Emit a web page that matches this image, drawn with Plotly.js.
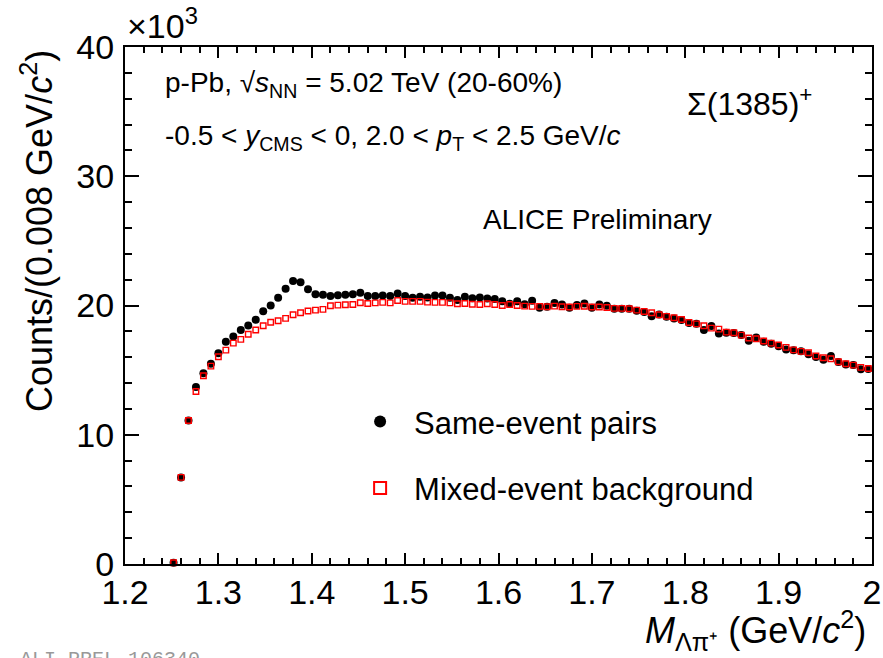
<!DOCTYPE html>
<html>
<head>
<meta charset="utf-8">
<script src="https://cdn.plot.ly/plotly-3.0.1.min.js"></script>
<style>html,body{margin:0;padding:0;background:#fff;}#chart{width:883px;height:658px;}</style>
</head>
<body>
<div id="chart"></div>
<script>
// Invariant mass bin centres (GeV/c^2), bin width 0.008
const massBins = [1.252,1.260,1.268,1.276,1.284,1.292,1.300,1.308,1.316,1.324,
1.332,1.340,1.348,1.356,1.364,1.372,1.380,1.388,1.396,1.404,
1.412,1.420,1.428,1.436,1.444,1.452,1.460,1.468,1.476,1.484,
1.492,1.500,1.508,1.516,1.524,1.532,1.540,1.548,1.556,1.564,
1.572,1.580,1.588,1.596,1.604,1.612,1.620,1.628,1.636,1.644,
1.652,1.660,1.668,1.676,1.684,1.692,1.700,1.708,1.716,1.724,
1.732,1.740,1.748,1.756,1.764,1.772,1.780,1.788,1.796,1.804,
1.812,1.820,1.828,1.836,1.844,1.852,1.860,1.868,1.876,1.884,
1.892,1.900,1.908,1.916,1.924,1.932,1.940,1.948,1.956,1.964,
1.972,1.980,1.988,1.996];

// Same-event pairs (counts, x10^3)
const sameEvent = [0.1,6.7,11.1,13.7,14.75,15.5,16.3,17.2,17.6,18.1,
18.45,18.9,19.55,20.0,20.6,21.3,21.9,21.8,21.25,20.88,
20.83,20.73,20.8,20.83,20.88,20.98,20.73,20.73,20.78,20.73,
20.93,20.73,20.6,20.67,20.62,20.78,20.78,20.6,20.42,20.67,
20.57,20.62,20.55,20.5,20.32,20.13,20.32,20.1,20.36,19.82,
19.9,20.2,20.08,19.82,20.03,20.16,19.82,20.08,19.98,19.75,
19.75,19.75,19.59,19.49,19.16,19.31,19.13,19.0,18.87,18.64,
18.58,18.1,18.41,17.84,17.89,17.87,17.71,17.27,17.53,17.19,
17.04,16.84,16.6,16.53,16.47,16.22,16.01,15.8,16.09,15.62,
15.44,15.39,15.06,15.08];

// Mixed-event background (counts, x10^3)
const mixedEvent = [0.1,6.7,11.1,13.35,14.56,15.31,16.03,16.55,17.09,17.38,
17.77,18.1,18.43,18.7,18.82,19.0,19.28,19.44,19.57,19.64,
19.7,19.98,20.03,20.06,20.08,20.21,20.16,20.2,20.24,20.2,
20.39,20.32,20.32,20.32,20.26,20.24,20.24,20.2,20.13,20.16,
20.1,20.08,20.13,20.08,20.0,20.08,20.0,19.95,19.93,19.93,
19.9,19.95,19.9,19.88,19.93,19.94,19.88,19.88,19.85,19.78,
19.78,19.75,19.64,19.54,19.44,19.28,19.16,19.05,18.92,18.69,
18.58,18.43,18.25,18.17,17.94,17.89,17.71,17.48,17.43,17.25,
17.09,16.94,16.76,16.57,16.45,16.34,16.09,15.96,15.88,15.65,
15.49,15.39,15.21,15.13];

const xTickVals = [1.2,1.3,1.4,1.5,1.6,1.7,1.8,1.9,2.0];
const xTickText = ["1.2","1.3","1.4","1.5","1.6","1.7","1.8","1.9","2"];
const yTickVals = [0,10,20,30,40];
const yTickText = ["0","10","20","30","40"];

const FONT = "Liberation Sans, Arial, Helvetica, sans-serif";

const traces = [
  {
    x: massBins, y: sameEvent, type: "scatter", mode: "markers",
    name: "Same-event pairs", legendgroup: "a",
    marker: {symbol: "circle", size: 8, color: "#000000"},
    cliponaxis: false
  },
  {
    x: massBins, y: mixedEvent, type: "scatter", mode: "markers",
    name: "Mixed-event background", legendgroup: "b",
    marker: {symbol: "square-open", size: 5.5, color: "#ff0000", line: {width: 1.4, color: "#ff0000"}},
    cliponaxis: false
  }
];

const axisCommon = {
  showgrid: false, zeroline: false, showline: true, linewidth: 2, linecolor: "#000",
  mirror: "allticks", ticks: "inside", tickwidth: 2, tickcolor: "#000",
  tickfont: {family: FONT, size: 34, color: "#000"}
};

const layout = {
  width: 883, height: 658,
  margin: {l: 125, r: 11, t: 47, b: 94},
  paper_bgcolor: "#fff", plot_bgcolor: "#fff",
  font: {family: FONT, color: "#000"},
  showlegend: true,
  legend: {
    x: 0.296, y: 0.327, xanchor: "left", yanchor: "top",
    bgcolor: "rgba(0,0,0,0)", borderwidth: 0,
    font: {family: FONT, size: 31, color: "#000"},
    itemsizing: "constant", itemwidth: 58,
    traceorder: "grouped", tracegroupgap: 23
  },
  xaxis: Object.assign({}, axisCommon, {
    range: [1.2, 2.0], tickmode: "array", tickvals: xTickVals, ticktext: xTickText,
    ticklen: 11, ticklabelstandoff: -3,
    minor: {tick0: 1.2, dtick: 0.02, ticks: "inside", ticklen: 6, tickwidth: 2, tickcolor: "#000", showgrid: false}
  }),
  yaxis: Object.assign({}, axisCommon, {
    range: [0, 40], tickmode: "array", tickvals: yTickVals, ticktext: yTickText,
    ticklen: 14, ticklabelstandoff: 2,
    minor: {tick0: 0, dtick: 2, ticks: "inside", ticklen: 7, tickwidth: 2, tickcolor: "#000", showgrid: false}
  }),
  annotations: [
    {xref: "paper", yref: "paper", x: 0, y: 1, xanchor: "left", yanchor: "bottom",
     text: "×10<sup>3</sup>", showarrow: false, font: {family: FONT, size: 34, color: "#000"}},
    {xref: "paper", yref: "paper", x: 0.0509, y: 0.9265, xanchor: "left", yanchor: "middle",
     text: "p-Pb, √<i>s</i><sub>NN</sub> = 5.02 TeV (20-60%)", showarrow: false,
     font: {family: FONT, size: 28, color: "#000"}},
    {xref: "paper", yref: "paper", x: 0.0509, y: 0.8255, xanchor: "left", yanchor: "middle",
     text: "-0.5 < <i>y</i><sub>CMS</sub> < 0, 2.0 < <i>p</i><sub>T</sub> < 2.5 GeV/<i>c</i>", showarrow: false,
     font: {family: FONT, size: 28, color: "#000"}},
    {xref: "paper", yref: "paper", x: 0.7497, y: 0.8936, xanchor: "left", yanchor: "middle",
     text: "Σ(1385)<sup>+</sup>", showarrow: false, font: {family: FONT, size: 32, color: "#000"}},
    {xref: "paper", yref: "paper", x: 0.4766, y: 0.6654, xanchor: "left", yanchor: "middle",
     text: "ALICE Preliminary", showarrow: false, font: {family: FONT, size: 28, color: "#000"}},
    {xref: "paper", yref: "paper", x: 0.9946, y: -0.1277, xanchor: "right", yanchor: "middle",
     text: "<i>M</i><sub>Λπ⁺</sub> (GeV/<i>c</i><sup>2</sup>)", showarrow: false,
     font: {family: FONT, size: 36, color: "#000"}},
    {xref: "paper", yref: "paper", x: -0.1178, y: 0.644, xanchor: "center", yanchor: "middle",
     textangle: -90, text: "Counts/(0.008 GeV/<i>c</i><sup>2</sup>)", showarrow: false,
     font: {family: FONT, size: 36, color: "#000"}},
    {xref: "paper", yref: "paper", x: -0.1432, y: -0.1585, xanchor: "left", yanchor: "top",
     text: "ALI-PREL-106340", showarrow: false,
     font: {family: "Liberation Mono, DejaVu Sans Mono, monospace", size: 20, color: "#999"}}
  ]
};

Plotly.newPlot("chart", traces, layout, {displayModeBar: false, staticPlot: true});
</script>
</body>
</html>
